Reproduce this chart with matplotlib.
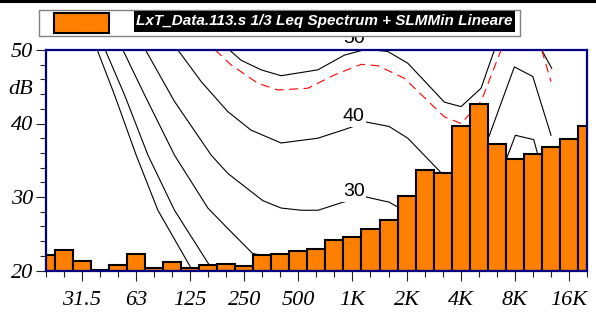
import numpy as np
import matplotlib
matplotlib.use("Agg")
import matplotlib.pyplot as plt
from matplotlib.patches import Rectangle
from matplotlib.lines import Line2D
from matplotlib.ticker import NullFormatter
from matplotlib.transforms import Bbox, TransformedBbox

# 1/3 octave Leq spectrum, 20 Hz .. 20 kHz
BANDS = ["20", "25", "31.5", "40", "50", "63", "80", "100", "125", "160",
         "200", "250", "315", "400", "500", "630", "800", "1K", "1.25K", "1.6K",
         "2K", "2.5K", "3.15K", "4K", "5K", "6.3K", "8K", "10K", "12.5K", "16K", "20K"]
LEQ = [22.1, 22.75, 21.3, 20.1, 20.8, 22.2, 20.4, 21.2, 20.4, 20.7,
       20.9, 20.6, 22.1, 22.2, 22.7, 22.9, 24.1, 24.5, 25.7, 26.9,
       30.2, 33.7, 33.2, 39.7, 42.6, 37.2, 35.2, 35.8, 36.8, 37.9, 39.7]
LABELLED = ["31.5", "63", "125", "250", "500", "1K", "2K", "4K", "8K", "16K"]

# equal loudness curves (Hz, dB)
C0_F = [38.1, 47.5, 62.7, 82.8, 126.8]
C0_DB = [50, 43.9, 35.7, 28.2, 20.3]
C10_F = [42.2, 54.0, 72.9, 102.4, 160.3]
C10_DB = [50, 43.9, 35.7, 28.2, 20.7]
C20_F = [52.9, 69.8, 102.4, 157, 203, 279, 1000]
C20_DB = [50, 43.9, 35.7, 28.5, 25.7, 22.3, 20]
C30_F = [70.7, 102.4, 163.8, 203, 317.6, 401, 518.6, 644.5, 888, 1192, 1599, 1795,
         4000, 7216, 8056, 10198, 10725]
C30_DB = [50, 43.0, 35.7, 33.2, 29.5, 28.5, 28.2, 28.2, 29.3, 30.0, 29.3, 28.6,
          24, 35.3, 38.4, 37.8, 35.8]
C40_F = [107, 144.2, 203, 273, 401, 642, 884, 1192, 1599, 2032, 3112, 4000,
         5776, 7952, 10066, 12720]
C40_DB = [50, 45.7, 41.6, 39.1, 37.35, 38.0, 39.1, 40.2, 39.6, 38.0, 33.3, 30,
          38.4, 47.7, 46.4, 38.4]
C50_F = [207, 240.5, 310.8, 401, 642, 902, 1192, 1573, 2032, 3247, 4020, 5192, 6156,
         np.nan, 11292, 12834]
C50_DB = [50, 48.6, 47.3, 46.5, 47.3, 49.3, 50.1, 49.8, 48.2, 42.9, 42.3, 44.8, 50,
          np.nan, 50, 47.5]
RED_F = [172.4, 211.7, 298, 385, 565, 794, 1118, 1384, 1946, 3247, 4020, 5192, 6708,
         np.nan, 11292, 12720]
RED_DB = [50, 47.96, 45.47, 44.56, 44.8, 46.6, 48.05, 47.86, 46.15, 40.9, 40.0, 43.0, 50,
          np.nan, 50, 45.7]

W, H = 596, 316
fig = plt.figure(figsize=(W / 100, H / 100), dpi=100)
ax = fig.add_axes([45.7 / W, 1 - 270.5 / H, 541.3 / W, 220.5 / H])

centers = 1000 * 2.0 ** ((np.arange(len(BANDS)) - 17) / 3)
lo = centers * 2 ** (-1 / 6)
hi = centers * 2 ** (1 / 6)
ax.bar(lo, np.array(LEQ) - 20, width=hi - lo, bottom=20, align="edge",
       color="#ff8000", edgecolor="black", linewidth=1.5, zorder=3)

for f, d in [(C0_F, C0_DB), (C10_F, C10_DB), (C20_F, C20_DB), (C30_F, C30_DB),
             (C40_F, C40_DB), (C50_F, C50_DB)]:
    ax.plot(f, d, color="black", linewidth=0.8, zorder=1)
ax.plot(RED_F, RED_DB, color="red", linewidth=0.8, dashes=(8, 5), zorder=1)

lab_font = dict(family="Liberation Sans", fontsize=14, ha="center", va="center",
                bbox=dict(facecolor="white", edgecolor="none", pad=1), zorder=2)
ax.text(1018, 30.7, "30", **lab_font)
ax.text(1018, 40.9, "40", **lab_font)
# label of the 50 curve sits on the frame, mostly cut away
t50 = ax.text(1018, 51.6, "50", **{**lab_font, "zorder": 4})
t50.set_clip_box(TransformedBbox(Bbox([[15, 10], [30000, 51.36]]), ax.transData))

ax.set_xscale("log")
ax.set_xlim(centers[0], centers[-1])
ax.set_ylim(20, 50)

major = [centers[BANDS.index(b)] for b in LABELLED]
minor = [c for b, c in zip(BANDS, centers) if b not in LABELLED]
ax.set_xticks(major, LABELLED)
ax.set_xticks(minor, minor=True)
ax.xaxis.set_minor_formatter(NullFormatter())
ax.set_yticks([20, 30, 40, 50])
ax.set_yticks(np.arange(22, 50, 2), minor=True)

tick_font = dict(family="Liberation Serif", style="italic", size=16)
for lbl in ax.get_xticklabels() + ax.get_yticklabels():
    lbl.set_fontfamily(tick_font["family"])
    lbl.set_fontstyle("italic")
    lbl.set_fontsize(16)
ax.tick_params(axis="both", which="major", length=7.5, width=0.8, color="#222222")
ax.tick_params(axis="both", which="minor", length=4, width=0.8, color="#222222")
ax.tick_params(axis="x", which="major", pad=7)
ax.tick_params(axis="y", which="major", pad=1.5)
ax.text(-0.023, 44.6, "dB", transform=ax.get_yaxis_transform(), ha="right",
        va="center", **tick_font)

for s in ax.spines.values():
    s.set_color("#000080")
    s.set_linewidth(1.6)
    s.set_zorder(3.5)

# legend box
fig.add_artist(Rectangle((39 / W, 1 - 36 / H), 481 / W, 26 / H, transform=fig.transFigure,
                         facecolor="white", edgecolor="#808080", linewidth=1))
fig.add_artist(Rectangle((54 / W, 1 - 33 / H), 55 / W, 20 / H, transform=fig.transFigure,
                         facecolor="#ff8000", edgecolor="black", linewidth=1.5))
fig.add_artist(Rectangle((134 / W, 1 - 32 / H), 381 / W, 21 / H, transform=fig.transFigure,
                         facecolor="black", edgecolor="none"))
fig.text(324.5 / W, 1 - 21.5 / H, "LxT_Data.113.s 1/3 Leq Spectrum + SLMMin Lineare",
         color="white", fontsize=11, fontweight="bold", fontstyle="italic",
         family="Liberation Sans", ha="center", va="center")
fig.add_artist(Line2D([0, 1], [1 - 1 / H, 1 - 1 / H], transform=fig.transFigure,
                      color="black", linewidth=2.2))

fig.savefig("out.png", dpi=100)
